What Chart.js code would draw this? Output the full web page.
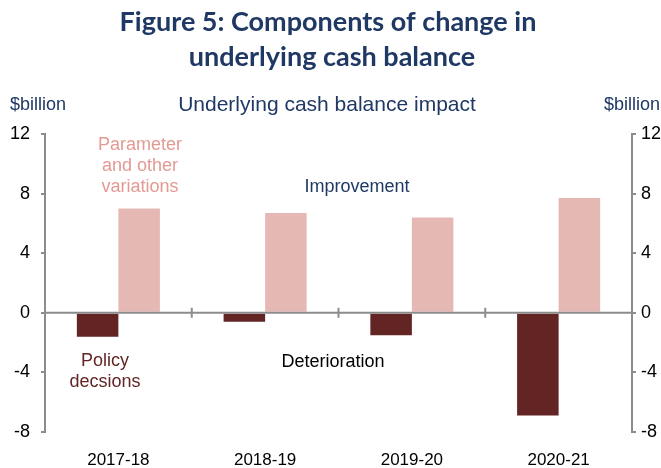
<!DOCTYPE html>
<html lang="en">
<head>
  <meta charset="UTF-8">
  <title>Figure 5</title>
  <script src="https://cdn.jsdelivr.net/npm/chart.js"></script>
  <style>
    html, body { margin: 0; padding: 0; background: #fff; }
    #wrap { position: relative; width: 661px; height: 468px; }
  </style>
</head>
<body>
  <div id="wrap"><canvas id="myChart" width="661" height="468"></canvas></div>

  <script>
    // data
    const years = ['2017-18', '2018-19', '2019-20', '2020-21'];
    const policy = [-1.6, -0.6, -1.5, -6.9];
    const parameter = [7.0, 6.7, 6.4, 7.7];
    const yTicks = [-8, -4, 0, 4, 8, 12];

    const navy = '#1f3864';
    const darkRed = '#632523';
    const pink = '#e6b8b4';
    const axisGrey = '#8c8c8c';
    const font = "'Liberation Sans', Arial, sans-serif";

    // zero line, category ticks and all the labels
    const extras = {
      id: 'extras',
      afterDatasetsDraw(chart) {
        const c = chart.ctx;
        const x = chart.scales.x;
        const y = chart.scales.y;
        const area = chart.chartArea;
        const y0 = y.getPixelForValue(0);
        c.save();
        c.strokeStyle = axisGrey;
        c.lineWidth = 2;
        c.beginPath();
        c.moveTo(area.left, y0);
        c.lineTo(area.right, y0);
        c.stroke();
        for (let i = 0; i < years.length - 1; i++) {
          const px = x.getPixelForValue(i + 0.5);
          c.beginPath();
          c.moveTo(px, y0 - 5);
          c.lineTo(px, y0 + 5);
          c.stroke();
        }

        c.textAlign = 'center';
        c.textBaseline = 'middle';
        c.fillStyle = navy;
        c.font = "bold 27px Lato, 'Noto Sans', sans-serif";
        c.fillText('Figure 5: Components of change in', 328, 22);
        c.fillText('underlying cash balance', 332, 57);

        c.font = '21px ' + font;
        c.fillText('Underlying cash balance impact', 327, 105);
        c.font = '18px ' + font;
        c.textAlign = 'left';
        c.fillText('$billion', 10, 105);
        c.fillText('$billion', 604, 105);

        c.textAlign = 'center';
        c.fillStyle = '#e39a94';
        c.fillText('Parameter', 140, 145);
        c.fillText('and other', 140, 166);
        c.fillText('variations', 140, 187);

        c.fillStyle = navy;
        c.fillText('Improvement', 357, 187);
        c.fillStyle = '#000';
        c.fillText('Deterioration', 333, 362);
        c.fillStyle = darkRed;
        c.fillText('Policy', 105, 361);
        c.fillText('decsions', 105, 382);
        c.restore();
      }
    };

    const ctx = document.getElementById('myChart').getContext('2d');
    new Chart(ctx, {
      type: 'bar',
      data: {
        labels: years,
        datasets: [{
          label: 'Policy decsions',
          data: policy,
          backgroundColor: darkRed,
          borderWidth: 0
        }, {
          label: 'Parameter and other variations',
          data: parameter,
          backgroundColor: pink,
          borderWidth: 0
        }]
      },
      options: {
        responsive: false,
        animation: false,
        layout: { padding: { top: 134, left: 0, right: 0, bottom: 0 } },
        datasets: { bar: { barPercentage: 1, categoryPercentage: 0.566 } },
        scales: {
          x: {
            afterFit: s => { s.height = 36; },
            grid: { display: false },
            border: { display: false },
            ticks: { color: '#000', font: { family: font, size: 17 }, padding: 10 }
          },
          y: {
            position: 'left',
            min: -8,
            max: 12,
            afterFit: s => { s.width = 45; },
            afterBuildTicks: s => { s.ticks = yTicks.map(v => ({ value: v })); },
            grid: { drawOnChartArea: false, color: axisGrey, tickLength: 4, lineWidth: 2 },
            border: { color: axisGrey, width: 2 },
            ticks: { color: '#000', font: { family: font, size: 18 }, padding: 11 }
          },
          y2: {
            position: 'right',
            min: -8,
            max: 12,
            afterFit: s => { s.width = 29; },
            afterBuildTicks: s => { s.ticks = yTicks.map(v => ({ value: v })); },
            grid: { drawOnChartArea: false, color: axisGrey, tickLength: 4, lineWidth: 2 },
            border: { color: axisGrey, width: 2 },
            ticks: { color: '#000', font: { family: font, size: 18 }, padding: 5 }
          }
        },
        plugins: {
          legend: { display: false },
          tooltip: { enabled: false }
        }
      },
      plugins: [extras]
    });
  </script>
</body>
</html>
